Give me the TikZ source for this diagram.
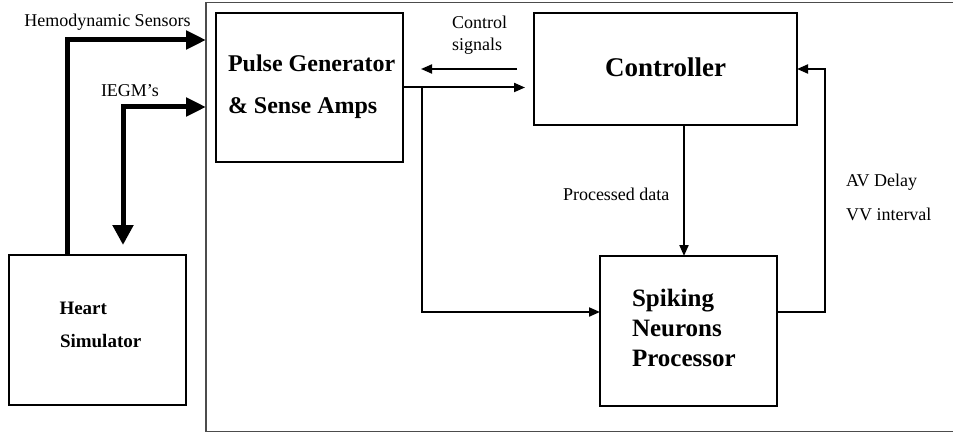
\documentclass[tikz,border=0pt]{standalone}
\usepackage{fontspec}
\setmainfont{Liberation Serif}
\usetikzlibrary{arrows.meta}
\begin{document}
\begin{tikzpicture}[x=1pt,y=-1pt,
  box/.style={draw, line width=2pt, inner sep=0pt, outer sep=0pt},
  thinarrow/.style={line width=2pt, -{Triangle[length=11pt,width=9pt]}},
  thickarrow/.style={line width=5pt, -{Triangle[length=20pt,width=18pt]}},
  lbl/.style={inner sep=0pt, outer sep=0pt, anchor=base west, font=\fontsize{18}{18}\selectfont},
  blbl/.style={inner sep=0pt, outer sep=0pt, anchor=base west, font=\fontsize{#1}{#1}\selectfont\bfseries},
]
\useasboundingbox (0,0) rectangle (953,433);

% outer frame (open at the right)
\coordinate (ftr) at (953,2.5);
\coordinate (ftl) at (206,2.5);
\coordinate (fbl) at (206,431.5);
\coordinate (fbr) at (953,431.5);
\draw[line width=1.5pt, black!70] (ftr) -- (ftl) -- (fbl) -- (fbr);

% boxes
\node[box, minimum width=187pt, minimum height=149pt] (pg) at (309.5,87.5) {};
\node[box, minimum width=263pt, minimum height=112pt] (ctrl) at (665.5,69) {};
\node[box, minimum width=177pt, minimum height=150pt] (sp) at (688.5,331) {};
\node[box, minimum width=177pt, minimum height=150pt] (heart) at (97.5,330) {};

% box texts
\node[blbl=24] (pg1) at (228,71.5) {Pulse Generator};
\node[blbl=24] (pg2) at (228,113.5) {\& Sense Amps};
\node[blbl=27, anchor=base] (ctrlt) at (665.5,76.5) {Controller};
\node[blbl=25] (sp1) at (632,306.5) {Spiking};
\node[blbl=25] (sp2) at (632,336) {Neurons};
\node[blbl=25] (sp3) at (632,366) {Processor};
\node[blbl=19] (h1) at (59.5,314) {Heart};
\node[blbl=19] (h2) at (60,347) {Simulator};

% labels
\node[lbl, anchor=base] (hemol) at (107.5,26.5) {Hemodynamic Sensors};
\node[lbl, anchor=base] (iegml) at (130,96.5) {IEGM's};
\node[lbl] (cs1) at (452,29) {Control};
\node[lbl] (cs2) at (452,50.5) {signals};
\node[lbl] (pdl) at (563,200) {Processed data};
\node[lbl] (av) at (846,186.5) {AV Delay};
\node[lbl] (vv) at (846,220) {VV interval};

% thick connectors to/from the heart simulator
\coordinate (hemoIn) at (206,40);
\coordinate (iegmIn) at (206,107);
\coordinate (iegmTip) at (123,245);
\draw[thickarrow] ([xshift=-30.5pt]heart.north) |- (hemoIn);
\draw[line width=5pt, {Triangle[length=20pt,width=20pt]}-{Triangle[length=20pt,width=18pt]}] (iegmTip) |- (iegmIn);

% control signals
\coordinate (csA) at ([xshift=-17pt]ctrl.west);
\coordinate (csB) at (421,69);
\draw[thinarrow] (csA) -- (csB);
\coordinate (pgOut) at ([xshift=-9pt]ctrl.west |- pg.east);
\draw[thinarrow] (pg.east) -- (pgOut);

% branch to spiking neurons
\coordinate (brk) at (422,87.5);
\draw[thinarrow] (brk) |- ([yshift=19pt]sp.west);

% processed data
\coordinate (pdx) at (684,0);
\draw[thinarrow] (ctrl.south -| pdx) -- (sp.north -| pdx);

% feedback AV delay / VV interval
\draw[thinarrow] ([yshift=19pt]sp.east) -- ++(48,0) |- (ctrl.east);
\end{tikzpicture}
\end{document}
